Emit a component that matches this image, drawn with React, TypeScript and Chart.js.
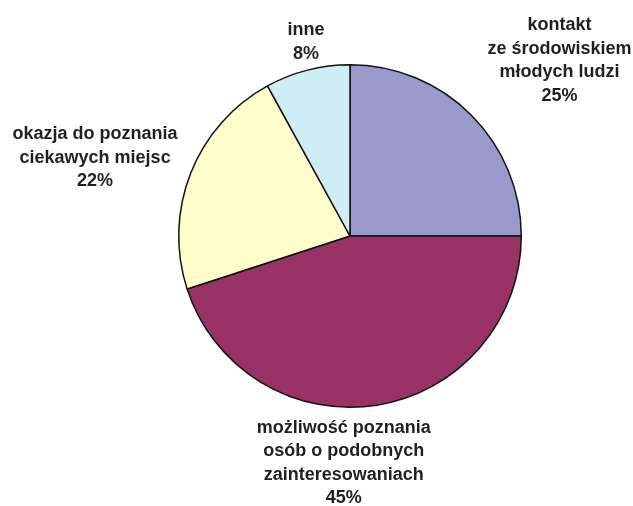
import React, { useEffect, useRef } from "react";
import { Chart, registerables } from "chart.js";

Chart.register(...registerables);

const categories = [
  ["kontakt", "ze środowiskiem", "młodych ludzi"],
  ["możliwość poznania", "osób o podobnych", "zainteresowaniach"],
  ["okazja do poznania", "ciekawych miejsc"],
  ["inne"],
];
const values = [25, 45, 22, 8];
const colors = ["#9999CC", "#993366", "#FFFFCC", "#CFEDF5"];

// label placement: radius factor and nudge (px)
const labelPlace = [
  { k: 1.4, dx: 40, dy: -6 },
  { k: 1.3, dx: -41, dy: 7 },
  { k: 1.4, dx: -32, dy: 10 },
  { k: 1.15, dx: 5, dy: -3 },
];

const labelPlugin = {
  id: "pieLabels",
  afterDraw(chart: any) {
    const ctx = chart.ctx;
    const meta = chart.getDatasetMeta(0);
    ctx.save();
    ctx.font = 'bold 18px "Liberation Sans", Arial, sans-serif';
    ctx.fillStyle = "#231F20";
    ctx.textAlign = "center";
    ctx.textBaseline = "middle";
    meta.data.forEach((arc: any, i: number) => {
      const { x, y, startAngle, endAngle, outerRadius } = arc.getProps(
        ["x", "y", "startAngle", "endAngle", "outerRadius"],
        true
      );
      const mid = (startAngle + endAngle) / 2;
      const p = labelPlace[i];
      const cx = x + Math.cos(mid) * outerRadius * p.k + p.dx;
      const cy = y + Math.sin(mid) * outerRadius * p.k + p.dy;
      const lines = [...categories[i], values[i] + "%"];
      const lh = 23.5;
      const top = cy - ((lines.length - 1) * lh) / 2;
      lines.forEach((t, j) => ctx.fillText(t, cx, top + j * lh));
    });
    ctx.restore();
  },
};

export default function App() {
  const ref = useRef<HTMLCanvasElement>(null);
  useEffect(() => {
    if (!ref.current) return;
    const chart = new Chart(ref.current, {
      type: "pie",
      data: {
        labels: categories.map((c) => c.join(" ")),
        datasets: [
          {
            data: values,
            backgroundColor: colors,
            borderColor: "#111111",
            borderWidth: 1.5,
          },
        ],
      },
      options: {
        responsive: false,
        animation: false,
        layout: { padding: { left: 178, right: 111, top: 64, bottom: 98 } },
        plugins: {
          legend: { display: false },
          tooltip: { enabled: false },
        },
      },
      plugins: [labelPlugin],
    });
    return () => chart.destroy();
  }, []);
  return (
    <div style={{ position: "absolute", left: 0, top: 0, width: 633, height: 506, background: "#fff" }}>
      <canvas ref={ref} width={633} height={506} />
    </div>
  );
}
